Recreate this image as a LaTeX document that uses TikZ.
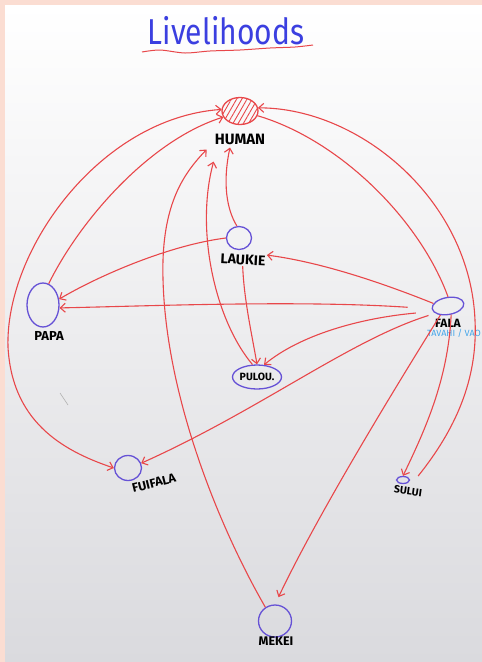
\documentclass[tikz,border=0pt]{standalone}
\usepackage{fontspec}
\setsansfont{Fira Sans}
\usepackage{tikz}
\usetikzlibrary{arrows.meta, calc, positioning, shapes.geometric, patterns.meta}
\tikzset{>={Straight Barb[length=5pt,width=9pt]}}
\usepackage{xcolor}
\definecolor{markerred}{HTML}{E8474A}
\definecolor{markerblue}{HTML}{6652D6}
\definecolor{titleblue}{HTML}{3B3FE0}
\definecolor{skyblue}{HTML}{45A6EA}
\definecolor{framepink}{HTML}{FBDDD2}
\definecolor{boardgrey}{HTML}{DADADE}
\tikzset{
  spot/.style={draw=markerblue, line width=1.3pt, ellipse, inner sep=0pt},
  lbl/.style={font=\sffamily\bfseries\fontsize{12}{12}\selectfont, inner sep=1pt},
  link/.style={draw=markerred, line width=1.1pt, ->},
}

\begin{document}
\begin{tikzpicture}[x=1pt, y=-1pt]
			% board
			\fill[framepink] (0,0) rectangle (482,662);
			\shade[top color=white, middle color=white!97!boardgrey, bottom color=boardgrey] (5,5) rectangle (482,662);
			\useasboundingbox (0,0) rectangle (482,662);
			% title
			\node[text=titleblue, font=\sffamily\fontsize{30}{30}\selectfont, yscale=1.2] (title) at (226,31) {Livelihoods};
			\draw[markerred, line width=1pt] plot[smooth] coordinates {(142,52) (160,50) (185,53) (210,51) (240,50) (270,48) (295,47) (313,45)};
			% resources
			\node[spot, draw=markerred, minimum width=36pt, minimum height=27pt, pattern={Lines[angle=60,distance=4.5pt,line width=0.9pt]}, pattern color=markerred] (human) at (240,111) {};
			\node[lbl, font=\sffamily\bfseries\fontsize{15}{15}\selectfont] (humanlbl) at (240,139) {HUMAN};
			\node[spot, minimum width=25pt, minimum height=23pt] (laukie) at (239,238) {};
			\node[lbl, font=\sffamily\bfseries\fontsize{14}{14}\selectfont, rotate=-3] (laukielbl) at (243,260) {LAUKIE};
			\node[spot, minimum width=32pt, minimum height=44pt] (papa) at (43,305) {};
			\node[lbl, font=\sffamily\bfseries\fontsize{13}{13}\selectfont] (papalbl) at (49,336) {PAPA};
			\node[spot, minimum width=49pt, minimum height=24pt, font=\sffamily\bfseries\fontsize{10.5}{10.5}\selectfont] (pulou) at (257,377) {PULOU.};
			\node[spot, minimum width=32pt, minimum height=17pt, rotate=10] (fala) at (448,306) {};
			\node[lbl] (falalbl) at (448,323) {FALA};
			\node[text=skyblue, font=\sffamily\fontsize{9}{9}\selectfont, inner sep=0pt, below=1pt of falalbl, xshift=6pt] (falasub) {TAVAHI / VAO};
			\node[spot, minimum width=27pt, minimum height=25pt] (fuifala) at (128,468) {};
			\node[lbl, font=\sffamily\bfseries\fontsize{12.5}{12.5}\selectfont, rotate=14] (fuifalalbl) at (154,483) {FUIFALA};
			\node[spot, minimum width=13pt, minimum height=7pt] (sului) at (403,480) {};
			\node[lbl, font=\sffamily\bfseries\fontsize{10.5}{10.5}\selectfont, rotate=-8] (suluilbl) at (408,491) {SULUI};
			\node[spot, minimum width=33pt, minimum height=32pt] (mekei) at (275,621) {};
			\node[lbl, font=\sffamily\bfseries\fontsize{12.5}{12.5}\selectfont] (mekeilbl) at (276,641) {MEKEI};
			% links
			\draw[link, <->] (fuifala.west) .. controls (60,450) and (12,420) .. (8,347) .. controls (5,250) and (100,118) .. (human.175);
			\draw[link] (papa.75) .. controls (80,220) and (150,140) .. (human.200);
			\draw[link] (mekei.125) .. controls (215,520) and (160,380) .. (163,260) .. controls (165,200) and (185,172) .. ([xshift=-7pt,yshift=-4pt]humanlbl.south west);
			\draw[link] (pulou.110) .. controls (215,320) and (195,230) .. ([yshift=-16pt]humanlbl.south west);
			\draw[link] (laukie.100) .. controls (224,205) and (224,175) .. ([xshift=-10pt,yshift=-2pt]humanlbl.south);
			\draw[link] ([shift={(8pt,4pt)}]sului.east) .. controls (455,430) and (478,380) .. (475,320) .. controls (470,200) and (360,108) .. (human.10);
			\draw[link, -] (fala.80) .. controls (420,220) and (340,140) .. (human.345);
			\draw[link] (fala.160) .. controls (380,282) and (320,262) .. (laukielbl.north east);
			\draw[link, shorten <=24pt] (fala.west) .. controls (300,300) and (150,306) .. (papa.-10);
			\draw[link] (laukie.west) .. controls (170,245) and (100,275) .. (papa.20);
			\draw[link] (laukielbl.south) .. controls (244,300) and (252,335) .. (pulou.north);
			\draw[link, shorten <=17pt] (fala.190) .. controls (360,318) and (300,335) .. (pulou.60);
			\draw[link, shorten <=7pt] (fala.200) .. controls (350,340) and (260,410) .. (fuifala.20);
			\draw[link, shorten >=8pt] (fala.220) .. controls (400,380) and (320,510) .. (mekei.north);
			\draw[link] (fala.-80) .. controls (448,380) and (425,430) .. (sului.north);
			% stray mark
			\draw[gray!60, line width=0.6pt] (60,393) -- (68,405);
		\end{tikzpicture}
\end{document}
